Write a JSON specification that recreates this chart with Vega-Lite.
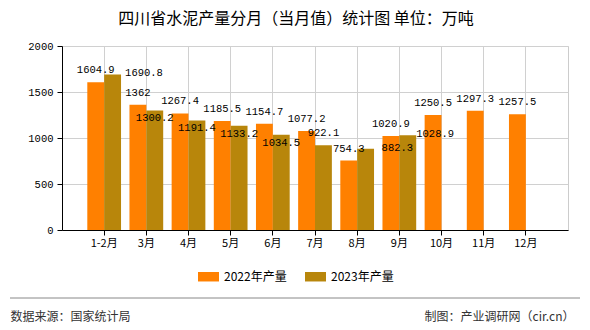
{
  "$schema": "https://vega.github.io/schema/vega-lite/v6.json",
  "width": 506,
  "height": 184,
  "autosize": "none",
  "padding": {"left": 62, "top": 46, "right": 22, "bottom": 100},
  "background": "white",
  "title": {
    "text": "四川省水泥产量分月（当月值）统计图 单位：万吨",
    "font": "Noto Sans CJK SC",
    "fontSize": 16,
    "fontWeight": "normal",
    "color": "#000000",
    "anchor": "middle",
    "dx": -19,
    "offset": 14
  },
  "config": {
    "view": {"stroke": "#cccccc"},
    "font": "Noto Sans CJK SC"
  },
  "data": {
    "values": [
      {"month": "1-2月", "series": "2022年产量", "value": 1604.9},
      {"month": "3月", "series": "2022年产量", "value": 1362},
      {"month": "4月", "series": "2022年产量", "value": 1267.4},
      {"month": "5月", "series": "2022年产量", "value": 1185.5},
      {"month": "6月", "series": "2022年产量", "value": 1154.7},
      {"month": "7月", "series": "2022年产量", "value": 1077.2},
      {"month": "8月", "series": "2022年产量", "value": 754.3},
      {"month": "9月", "series": "2022年产量", "value": 1020.9},
      {"month": "10月", "series": "2022年产量", "value": 1250.5},
      {"month": "11月", "series": "2022年产量", "value": 1297.3},
      {"month": "12月", "series": "2022年产量", "value": 1257.5},
      {"month": "1-2月", "series": "2023年产量", "value": 1690.8},
      {"month": "3月", "series": "2023年产量", "value": 1300.2},
      {"month": "4月", "series": "2023年产量", "value": 1191.4},
      {"month": "5月", "series": "2023年产量", "value": 1133.2},
      {"month": "6月", "series": "2023年产量", "value": 1034.5},
      {"month": "7月", "series": "2023年产量", "value": 922.1},
      {"month": "8月", "series": "2023年产量", "value": 882.3},
      {"month": "9月", "series": "2023年产量", "value": 1028.9}
    ]
  },
  "layer": [
    {
      "encoding": {
        "x": {
          "field": "month",
          "type": "nominal",
          "sort": ["1-2月", "3月", "4月", "5月", "6月", "7月", "8月", "9月", "10月", "11月", "12月"],
          "scale": {"paddingInner": 0.2, "paddingOuter": 0.6},
          "axis": {
            "title": "数据来源：国家统计局",
            "titleX": -52,
            "titleY": 86,
            "titleAlign": "left",
            "titleAnchor": "start",
            "titleBaseline": "middle",
            "titleFont": "Noto Sans CJK SC",
            "titleFontSize": 12,
            "titleFontWeight": "normal",
            "titleColor": "#333333",
            "labelAngle": 0,
            "labelFont": "Noto Sans CJK SC",
            "labelFontSize": 11,
            "labelColor": "#000000",
            "labelPadding": 2,
            "tickSize": 5,
            "tickColor": "#000000",
            "domainColor": "#000000",
            "grid": true,
            "gridColor": "#d0d0d0",
            "bandPosition": 0.5
          }
        },
        "xOffset": {
          "field": "series",
          "type": "nominal",
          "sort": ["2022年产量", "2023年产量"],
          "scale": {"paddingInner": 0, "paddingOuter": 0}
        },
        "y": {
          "field": "value",
          "type": "quantitative",
          "scale": {"domain": [0, 2000]},
          "axis": {
            "values": [0, 500, 1000, 1500, 2000],
            "format": "d",
            "title": "制图：产业调研网（cir.cn）",
            "titleAngle": 0,
            "titleX": 512,
            "titleY": 270,
            "titleAlign": "right",
            "titleAnchor": "end",
            "titleBaseline": "middle",
            "titleFont": "Noto Sans CJK SC",
            "titleFontSize": 12,
            "titleFontWeight": "normal",
            "titleColor": "#333333",
            "labelFont": "Liberation Mono",
            "labelFontSize": 10.5,
            "labelColor": "#000000",
            "labelPadding": 4,
            "tickSize": 5,
            "tickColor": "#000000",
            "domainColor": "#000000",
            "gridColor": "#d0d0d0"
          }
        }
      },
      "layer": [
        {
          "mark": {"type": "bar"},
          "encoding": {
            "color": {
              "field": "series",
              "type": "nominal",
              "scale": {"domain": ["2022年产量", "2023年产量"], "range": ["#FF8000", "#B8860B"]},
              "legend": {
                "orient": "none",
                "legendX": 136,
                "legendY": 220,
                "direction": "horizontal",
                "title": null,
                "symbolType": "M-1,-0.45H1V0.45H-1Z",
                "symbolSize": 441,
                "symbolStrokeWidth": 0,
                "symbolOpacity": 1,
                "labelFont": "Noto Sans CJK SC",
                "labelFontSize": 12,
                "labelColor": "#000000",
                "columnPadding": 18,
                "labelOffset": 5,
                "padding": 0
              }
            }
          }
        },
        {
          "transform": [{"filter": "datum.series == '2022年产量'"}],
          "mark": {"type": "text", "font": "Liberation Mono", "fontSize": 10.5, "color": "#000000", "baseline": "middle", "dy": -12},
          "encoding": {"text": {"field": "value", "type": "nominal"}}
        },
        {
          "transform": [{"filter": "datum.series == '2023年产量' && indexof(['3月','4月','5月','6月'], datum.month) >= 0"}],
          "mark": {"type": "text", "font": "Liberation Mono", "fontSize": 10.5, "color": "#000000", "baseline": "middle", "dy": 8},
          "encoding": {"text": {"field": "value", "type": "nominal"}}
        },
        {
          "transform": [{"filter": "datum.series == '2023年产量' && datum.month == '7月'"}],
          "mark": {"type": "text", "font": "Liberation Mono", "fontSize": 10.5, "color": "#000000", "baseline": "middle", "dy": -12},
          "encoding": {"text": {"field": "value", "type": "nominal"}}
        },
        {
          "transform": [{"filter": "datum.series == '2023年产量' && datum.month == '1-2月'"}],
          "mark": {"type": "text", "font": "Liberation Mono", "fontSize": 10.5, "color": "#000000", "baseline": "middle", "align": "left", "dx": 12.5, "dy": -1},
          "encoding": {"text": {"field": "value", "type": "nominal"}}
        },
        {
          "transform": [{"filter": "datum.series == '2023年产量' && datum.month == '8月'"}],
          "mark": {"type": "text", "font": "Liberation Mono", "fontSize": 10.5, "color": "#000000", "baseline": "middle", "align": "left", "dx": 16, "dy": -1},
          "encoding": {"text": {"field": "value", "type": "nominal"}}
        },
        {
          "transform": [{"filter": "datum.series == '2023年产量' && datum.month == '9月'"}],
          "mark": {"type": "text", "font": "Liberation Mono", "fontSize": 10.5, "color": "#000000", "baseline": "middle", "align": "left", "dx": 8.5, "dy": -1},
          "encoding": {"text": {"field": "value", "type": "nominal"}}
        }
      ]
    },
    {
      "transform": [{"filter": "datum.series == '2022年产量' && datum.month == '1-2月'"}],
      "mark": {"type": "rule", "color": "#888888", "strokeWidth": 1},
      "encoding": {
        "x": {"value": -52},
        "x2": {"value": 518},
        "y": {"value": 252}
      }
    }
  ]
}
